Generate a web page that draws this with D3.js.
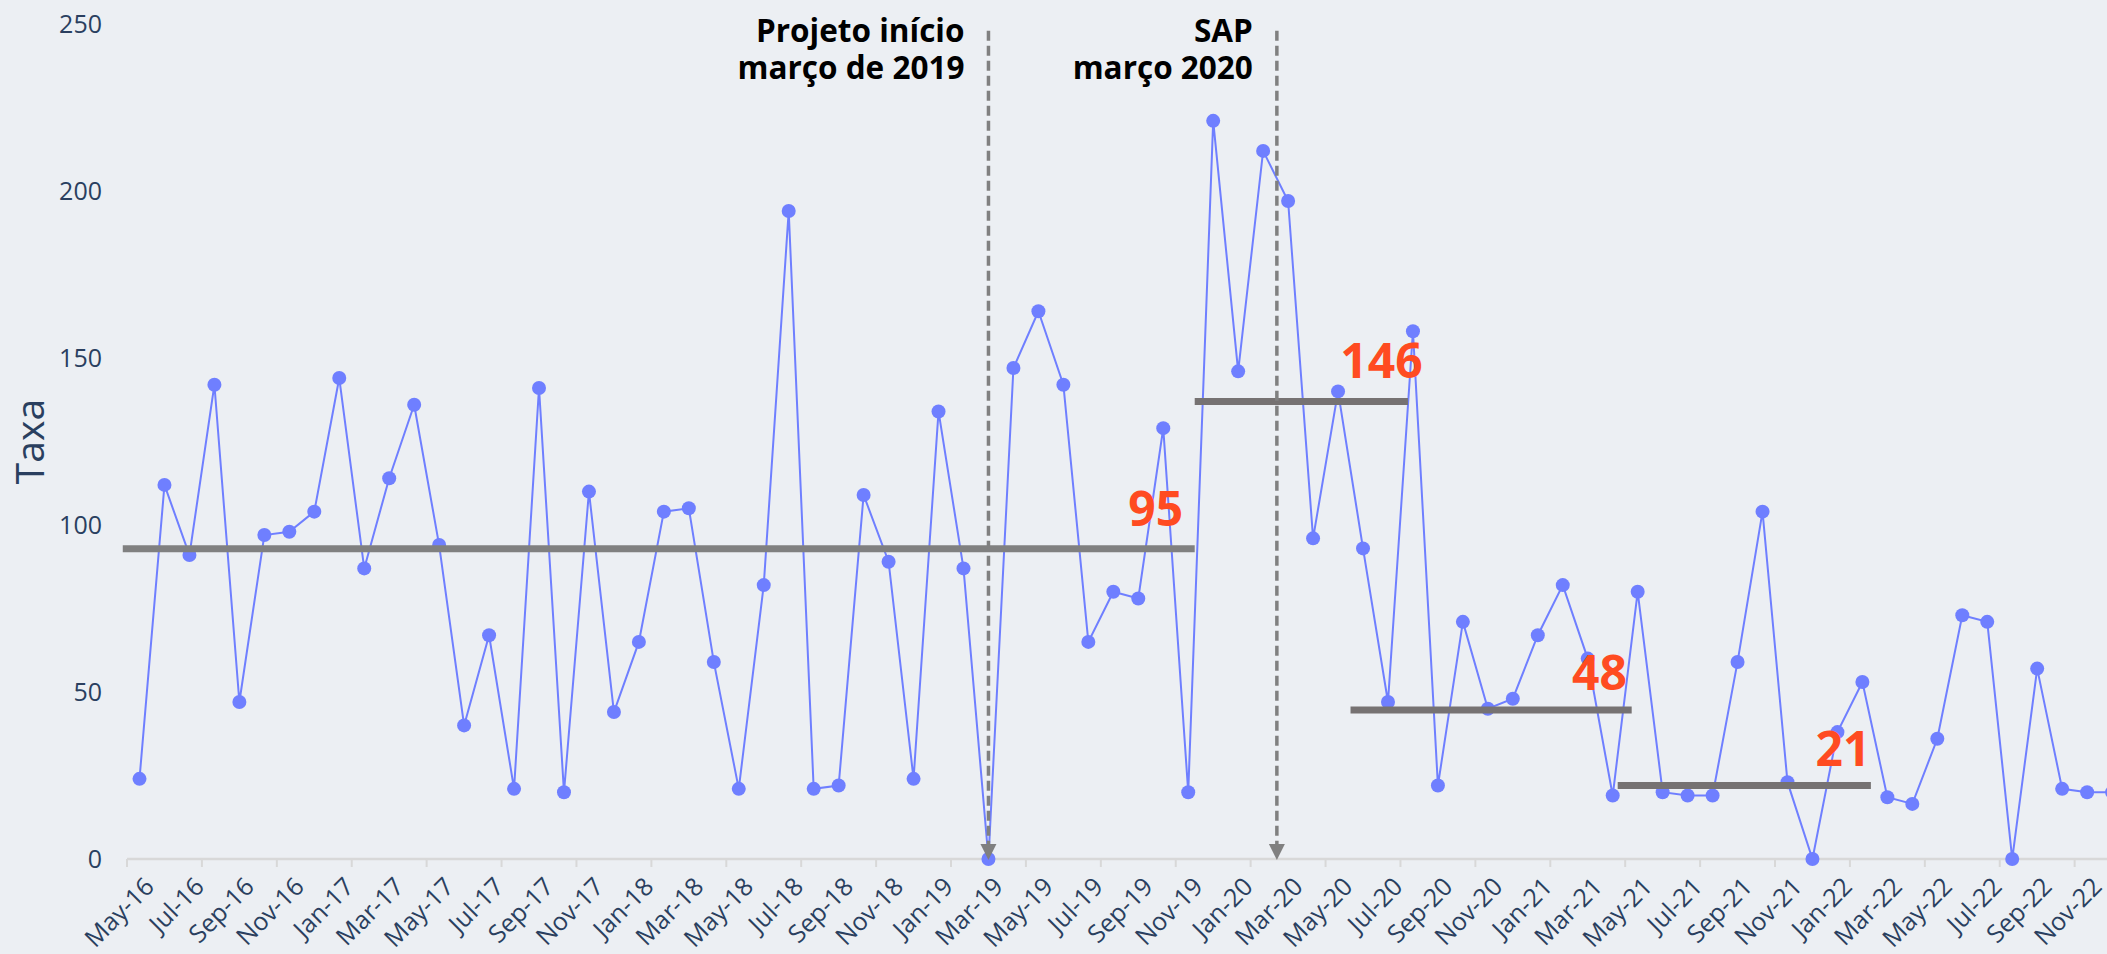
<!DOCTYPE html>
<html>
<head>
<meta charset="utf-8">
<script src="https://cdn.jsdelivr.net/npm/d3@7"></script>
<style>
  body { margin: 0; background: #eceff3; overflow: hidden; }
  svg { display: block; font-family: 'Open Sans', 'Noto Sans', sans-serif; }
  .tick-label { fill: #2a3f5f; font-size: 25px; }
  .axis-title { fill: #2a3f5f; font-size: 39px; }
  .note { fill: #000; font-size: 31.5px; font-weight: 700; }
  .mean-label { fill: #ff4b21; font-size: 48px; font-weight: 700; }
</style>
</head>
<body>
<svg width="2107" height="954"></svg>
<script>
// monthly categories, May-16 .. Dec-22
const months = [
  'May-16','Jun-16','Jul-16','Aug-16','Sep-16','Oct-16','Nov-16','Dec-16',
  'Jan-17','Feb-17','Mar-17','Apr-17','May-17','Jun-17','Jul-17','Aug-17','Sep-17','Oct-17','Nov-17','Dec-17',
  'Jan-18','Feb-18','Mar-18','Apr-18','May-18','Jun-18','Jul-18','Aug-18','Sep-18','Oct-18','Nov-18','Dec-18',
  'Jan-19','Feb-19','Mar-19','Apr-19','May-19','Jun-19','Jul-19','Aug-19','Sep-19','Oct-19','Nov-19','Dec-19',
  'Jan-20','Feb-20','Mar-20','Apr-20','May-20','Jun-20','Jul-20','Aug-20','Sep-20','Oct-20','Nov-20','Dec-20',
  'Jan-21','Feb-21','Mar-21','Apr-21','May-21','Jun-21','Jul-21','Aug-21','Sep-21','Oct-21','Nov-21','Dec-21',
  'Jan-22','Feb-22','Mar-22','Apr-22','May-22','Jun-22','Jul-22','Aug-22','Sep-22','Oct-22','Nov-22','Dec-22'
]

const taxa = [
  24, 112, 91, 142, 47, 97, 98, 104,
  144, 87, 114, 136, 94, 40, 67, 21, 141, 20, 110, 44,
  65, 104, 105, 59, 21, 82, 194, 21, 22, 109, 89, 24,
  134, 87, 0, 147, 164, 142, 65, 80, 78, 129, 20, 221,
  146, 212, 197, 96, 140, 93, 47, 158, 22, 71, 45, 48,
  67, 82, 60, 19, 80, 20, 19, 19, 59, 104, 23, 0,
  38, 53, 18.5, 16.5, 36, 73, 71, 0, 57, 21, 20, 20
]

const xTickLabels = [
  'May-16','Jul-16','Sep-16','Nov-16','Jan-17','Mar-17','May-17','Jul-17','Sep-17','Nov-17',
  'Jan-18','Mar-18','May-18','Jul-18','Sep-18','Nov-18','Jan-19','Mar-19','May-19','Jul-19',
  'Sep-19','Nov-19','Jan-20','Mar-20','May-20','Jul-20','Sep-20','Nov-20','Jan-21','Mar-21',
  'May-21','Jul-21','Sep-21','Nov-21','Jan-22','Mar-22','May-22','Jul-22','Sep-22','Nov-22'
]
const yTicks = [0, 50, 100, 150, 200, 250]

// mean segments: start, end (month index), level
const meanStart = [-0.67, 42.26, 48.5, 59.2]
const meanEnd = [42.26, 50.8, 59.76, 69.34]
const meanLevel = [92.9, 137, 44.6, 22]
const meanColor = ['#808080', '#767272', '#767272', '#767272']

// labels written above the segments
const labelText = ['95', '146', '48', '21']
const labelPos = [40.7, 49.74, 58.47, 68.22]
const labelLevel = [99.7, 144, 50.6, 27.8]

// event markers
const eventPos = [34, 45.55]
const eventText = [['Projeto início', 'março de 2019'], ['SAP', 'março 2020']]

const svg = d3.select('svg')
const W = 2107

const x = d3.scaleLinear().domain([0, 79]).range([139.5, 2112.1])
const y = d3.scaleLinear().domain([0, 250]).range([859, 24])

// x axis line + ticks on category boundaries, every 3 months
svg.append('line')
  .attr('x1', x(-0.5)).attr('x2', W)
  .attr('y1', y(0)).attr('y2', y(0))
  .attr('stroke', '#d8d8d8').attr('stroke-width', 2.5)

const boundaries = d3.range(-0.5, months.length, 3)
svg.selectAll('.xtick')
  .data(boundaries)
  .enter()
  .append('line')
  .attr('x1', d => x(d)).attr('x2', d => x(d))
  .attr('y1', y(0)).attr('y2', y(0) + 8)
  .attr('stroke', '#d8d8d8').attr('stroke-width', 2)

svg.selectAll('.xlab')
  .data(xTickLabels)
  .enter()
  .append('text')
  .attr('class', 'tick-label')
  .attr('text-anchor', 'end')
  .attr('dy', '0.35em')
  .attr('transform', d => `translate(${x(months.indexOf(d)) + 10}, ${y(0) + 23}) rotate(-45)`)
  .text(d => d)

// y tick labels
svg.selectAll('.ylab')
  .data(yTicks)
  .enter()
  .append('text')
  .attr('class', 'tick-label')
  .attr('x', 102)
  .attr('y', d => y(d))
  .attr('dy', '0.35em')
  .attr('text-anchor', 'end')
  .text(d => d)

svg.append('text')
  .attr('class', 'axis-title')
  .attr('transform', `translate(44, ${(y(0) + y(250)) / 2}) rotate(-90)`)
  .attr('text-anchor', 'middle')
  .text('Taxa')

// series
const line = d3.line()
  .x((d, i) => x(i))
  .y(d => y(d))

svg.append('path')
  .datum(taxa)
  .attr('fill', 'none')
  .attr('stroke', '#6f7fff')
  .attr('stroke-width', 2)
  .attr('d', line)

svg.selectAll('.dot')
  .data(taxa)
  .enter()
  .append('circle')
  .attr('cx', (d, i) => x(i))
  .attr('cy', d => y(d))
  .attr('r', 7)
  .attr('fill', '#6f7fff')

// mean segments
svg.selectAll('.mean')
  .data(meanLevel)
  .enter()
  .append('line')
  .attr('x1', (d, i) => x(meanStart[i]))
  .attr('x2', (d, i) => x(meanEnd[i]))
  .attr('y1', d => y(d)).attr('y2', d => y(d))
  .attr('stroke', (d, i) => meanColor[i])
  .attr('stroke-width', 7)

svg.selectAll('.mean-label')
  .data(labelText)
  .enter()
  .append('text')
  .attr('class', 'mean-label')
  .attr('x', (d, i) => x(labelPos[i]))
  .attr('y', (d, i) => y(labelLevel[i]))
  .attr('text-anchor', 'middle')
  .text(d => d)

// dashed event lines with arrow heads
eventPos.forEach((p, k) => {
  const ex = x(p)
  svg.append('line')
    .attr('x1', ex).attr('x2', ex)
    .attr('y1', y(248)).attr('y2', y(0) - 12)
    .attr('stroke', '#808080')
    .attr('stroke-width', 3.5)
    .attr('stroke-dasharray', '10,5')
  svg.append('path')
    .attr('d', `M${ex - 8},${y(0) - 15} L${ex + 8},${y(0) - 15} L${ex},${y(0) + 1} Z`)
    .attr('fill', '#808080')

  // one text per line so the two lines do not share a box
  eventText[k].forEach((s, j) => {
    svg.append('text')
      .attr('class', 'note')
      .attr('text-anchor', 'end')
      .attr('x', ex - 24)
      .attr('y', 42 + j * 37)
      .text(s)
  })
})
</script>
</body>
</html>
